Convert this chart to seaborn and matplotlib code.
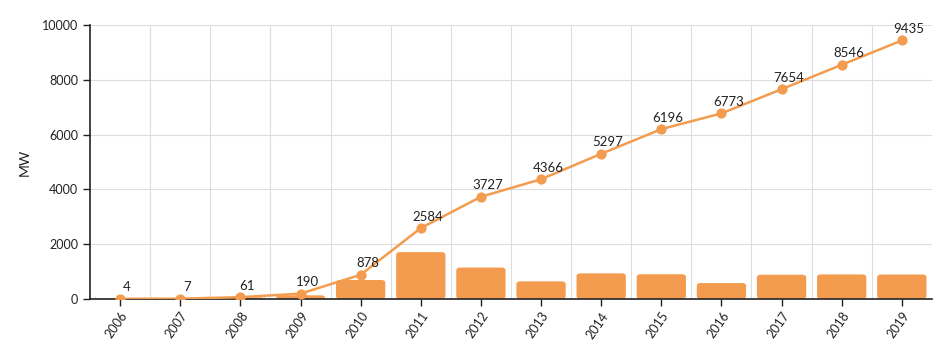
import matplotlib
matplotlib.use("Agg")
import matplotlib.pyplot as plt
import seaborn as sns
import pandas as pd
import numpy as np
from matplotlib.ticker import FixedLocator
from matplotlib.patches import FancyBboxPatch

years = ["2006", "2007", "2008", "2009", "2010", "2011", "2012", "2013",
         "2014", "2015", "2016", "2017", "2018", "2019"]
cumulative = [4, 7, 61, 190, 878, 2584, 3727, 4366, 5297, 6196, 6773, 7654, 8546, 9435]
annual = [4, 3, 54, 129, 688, 1706, 1143, 639, 931, 899, 577, 881, 892, 889]

df = pd.DataFrame({"year": years, "cumulative": cumulative, "annual": annual})

sns.set_theme(style="white")
plt.rcParams["font.family"] = ["Lato", "DejaVu Sans"]

orange = "#F39C4F"
fig = plt.figure(figsize=(9.48, 3.52), dpi=100)
ax = fig.add_axes([0.095, 0.151, 0.888, 0.778])

sns.barplot(data=df, x="year", y="annual", color=orange, width=0.82,
            saturation=1, ax=ax, zorder=2)

# replace bars with rounded-corner versions of the same geometry
for p in list(ax.patches):
    x0, y0, w, h = p.get_x(), p.get_y(), p.get_width(), p.get_height()
    p.remove()
    fb = FancyBboxPatch((x0, y0), w, h,
                        boxstyle="round,pad=0,rounding_size=0.06",
                        mutation_aspect=1800, facecolor=orange, edgecolor="none",
                        zorder=2)
    ax.add_patch(fb)

sns.pointplot(data=df, x="year", y="cumulative", color=orange, ax=ax,
              markers="o", markersize=6, linewidth=1.8, zorder=3)

for i, v in enumerate(cumulative):
    ax.annotate(str(v), (i, v), xytext=(5, 4), textcoords="offset points",
                ha="center", va="bottom", fontsize=9.5, color="#222222", zorder=4)

ax.set_xlim(-0.5, len(years) - 0.5)
ax.set_ylim(0, 10000)
ax.set_yticks([0, 2000, 4000, 6000, 8000, 10000])
ax.set_ylabel("MW", fontsize=10, color="#222222", labelpad=8)
ax.set_xlabel("")

ax.xaxis.set_minor_locator(FixedLocator(np.arange(0.5, len(years) - 0.5, 1)))
ax.grid(axis="y", which="major", color="#dddddd", linewidth=0.8, zorder=0)
ax.grid(axis="x", which="minor", color="#dddddd", linewidth=0.8, zorder=0)
ax.grid(axis="x", which="major", visible=False)
ax.set_axisbelow(True)

for s in ["top", "right"]:
    ax.spines[s].set_visible(False)
for s in ["left", "bottom"]:
    ax.spines[s].set_color("#222222")
    ax.spines[s].set_linewidth(1.2)

ax.tick_params(axis="x", which="major", bottom=True, length=5, width=1, color="#222222",
               labelsize=9, labelcolor="#222222", pad=3)
ax.tick_params(axis="x", which="minor", bottom=False)
ax.tick_params(axis="y", left=True, length=5, width=1, color="#222222",
               labelsize=9, labelcolor="#222222")
plt.setp(ax.get_xticklabels(), rotation=55, ha="right", rotation_mode="anchor")

fig.savefig("out.png", dpi=100)
